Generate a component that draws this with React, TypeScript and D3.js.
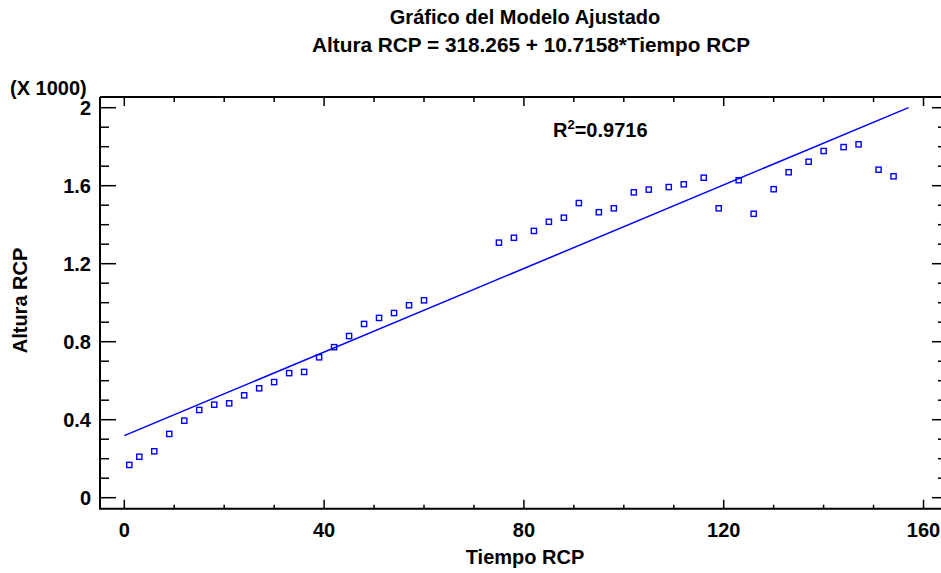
import React from "react";
import * as d3 from "d3";

const tiempo = [1, 3, 6, 9, 12, 15, 18, 21, 24, 27, 30, 33, 36, 39, 42, 45, 48, 51, 54, 57, 60,
  75, 78, 82, 85, 88, 91, 95, 98, 102, 105, 109, 112, 116, 119, 123, 126, 130, 133, 137, 140, 144, 147, 151, 154];
const altura = [168, 210, 238, 327, 395, 450, 477, 484, 525, 561, 593, 639, 645, 720, 772, 829, 891, 922, 947, 987, 1012,
  1308, 1333, 1368, 1415, 1436, 1511, 1464, 1484, 1566, 1580, 1593, 1607, 1641, 1484, 1628, 1456, 1582, 1669, 1723, 1778, 1798, 1812, 1682, 1648];
const intercept = 318.265;
const slope = 10.7158;
const lineRange = [0, 157];
const xMajorTicks = [0, 40, 80, 120, 160];
const yMajorTicks = [0, 400, 800, 1200, 1600, 2000];
const yTickLabels = ["0", "0.4", "0.8", "1.2", "1.6", "2"];
const titleLine1 = "Gráfico del Modelo Ajustado";
const titleLine2 = "Altura RCP = 318.265 + 10.7158*Tiempo RCP";
const xLabel = "Tiempo RCP";
const yLabel = "Altura RCP";
const scaleLabel = "(X 1000)";

export default function App() {
  const W = 941, H = 573;
  const left = 100, right = 942, top = 97, bottom = 508.7;
  const x = d3.scaleLinear().domain([-4.865, 163.7]).range([left, right]);
  const y = d3.scaleLinear().domain([-56.4, 2054.9]).range([bottom, top]);
  const xMinor = d3.range(0, 161, 10);
  const yMinor = d3.range(0, 2001, 100);
  const lineGen = d3.line<number>().x((t) => x(t)).y((t) => y(intercept + slope * t));
  const font = "'Liberation Sans', Arial, sans-serif";
  const blue = "#0000ff";
  return (
    <svg width={W} height={H} style={{ position: "fixed", left: 0, top: 0, background: "#fff" }} fontFamily={font} fontWeight="bold">
      <rect x={0} y={0} width={W} height={H} fill="#fff" />
      <text x={525} y={24} fontSize={20} textAnchor="middle">{titleLine1}</text>
      <text x={531} y={52} fontSize={20} textAnchor="middle" textLength={438} lengthAdjust="spacingAndGlyphs">{titleLine2}</text>
      <text x={10} y={95} fontSize={20}>{scaleLabel}</text>
      {/* frame */}
      <path d={`M${left},${top}H${right}M${left},${top}V${bottom}H${right}V${top}`} fill="none" stroke="#000" strokeWidth={2} />
      {/* x ticks */}
      {xMinor.map((t) => {
        const major = t % 40 === 0;
        return (
          <g key={"xt" + t}>
            <line x1={x(t)} x2={x(t)} y1={bottom} y2={bottom - (major ? 9 : 4)} stroke="#000" strokeWidth={1.5} />
            <line x1={x(t)} x2={x(t)} y1={top} y2={top + (major ? 9 : 5)} stroke="#000" strokeWidth={1.5} />
          </g>
        );
      })}
      {yMinor.map((v) => {
        const major = v % 400 === 0;
        return (
          <g key={"yt" + v}>
            <line x1={left} x2={left + (major ? 16 : 9)} y1={y(v)} y2={y(v)} stroke="#000" strokeWidth={1.5} />
            <line x1={right} x2={right - (major ? 10 : 4)} y1={y(v)} y2={y(v)} stroke="#000" strokeWidth={1.5} />
          </g>
        );
      })}
      {xMajorTicks.map((t) => (
        <text key={"xl" + t} x={x(t)} y={536.5} fontSize={20} textAnchor="middle">{t}</text>
      ))}
      {yMajorTicks.map((v, i) => (
        <text key={"yl" + v} x={91} y={y(v) + 6.8} fontSize={20} textAnchor="end">{yTickLabels[i]}</text>
      ))}
      <text x={525} y={564} fontSize={20} textAnchor="middle">{xLabel}</text>
      <text transform="translate(26.5,300.5) rotate(-90)" fontSize={20} textAnchor="middle">{yLabel}</text>
      {/* regression line */}
      <path d={lineGen(lineRange) || ""} fill="none" stroke={blue} strokeWidth={1.5} />
      {/* points */}
      {tiempo.map((t, i) => (
        <rect key={"p" + i} x={x(t) - 2.6} y={y(altura[i]) - 2.6} width={5.2} height={5.2} fill="none" stroke={blue} strokeWidth={1.4} />
      ))}
      <text x={553} y={137} fontSize={20}>
        R<tspan fontSize={13} dy={-8}>2</tspan><tspan dy={8}>=0.9716</tspan>
      </text>
    </svg>
  );
}
